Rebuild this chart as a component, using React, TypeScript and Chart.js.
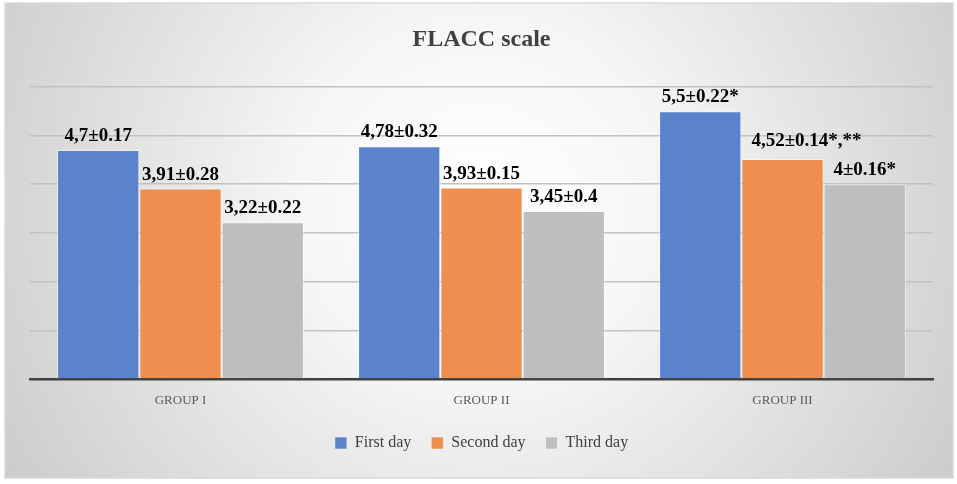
import React, { useEffect, useRef } from "react";
import { Chart, registerables } from "chart.js";

Chart.register(...registerables);

const categories = ["GROUP I", "GROUP II", "GROUP III"];
const seriesNames = ["First day", "Second day", "Third day"];
const firstDay = [4.7, 4.78, 5.5];
const secondDay = [3.91, 3.93, 4.52];
const thirdDay = [3.22, 3.45, 4.0];
const firstDayLabels = ["4,7±0.17", "4,78±0.32", "5,5±0.22*"];
const secondDayLabels = ["3,91±0.28", "3,93±0.15", "4,52±0.14*,**"];
const thirdDayLabels = ["3,22±0.22", "3,45±0.4", "4±0.16*"];
const yTicks = [0, 1, 2, 3, 4, 5, 6];

const SERIF = "'Liberation Serif', 'Times New Roman', serif";

const bgPlugin = {
  id: "bgPlugin",
  beforeDraw(chart: any) {
    const { ctx, width, height } = chart;
    ctx.save();
    ctx.fillStyle = "#ffffff";
    ctx.fillRect(0, 0, width, height);
    const x0 = 5, y0 = 3, x1 = 953, y1 = 478;
    const g = ctx.createRadialGradient(480, 200, 0, 480, 200, 600);
    g.addColorStop(0, "#ffffff");
    g.addColorStop(0.3, "#f6f6f6");
    g.addColorStop(1, "#c6c6c6");
    ctx.fillStyle = g;
    ctx.fillRect(x0, y0, x1 - x0, y1 - y0);
    ctx.strokeStyle = "#d9d9d9";
    ctx.lineWidth = 1.5;
    ctx.strokeRect(x0, y0, x1 - x0, y1 - y0);
    ctx.restore();
  },
};

const labelPlugin = {
  id: "labelPlugin",
  afterDatasetsDraw(chart: any) {
    const { ctx } = chart;
    const allLabels = [firstDayLabels, secondDayLabels, thirdDayLabels];
    ctx.save();
    ctx.font = `bold 19px ${SERIF}`;
    ctx.fillStyle = "#000000";
    ctx.textAlign = "center";
    ctx.textBaseline = "alphabetic";
    chart.data.datasets.forEach((_: any, di: number) => {
      const meta = chart.getDatasetMeta(di);
      meta.data.forEach((bar: any, i: number) => {
        const text = allLabels[di][i];
        let dx = 0;
        let dy = 9;
        if (di === 1 && i === 2) {
          dx = 24;
          dy = 13;
        }
        ctx.fillText(text, bar.x + dx, bar.y - dy);
      });
    });
    ctx.restore();
  },
};

export default function App() {
  const ref = useRef<HTMLCanvasElement>(null);
  useEffect(() => {
    if (!ref.current) return;
    const chart = new Chart(ref.current, {
      type: "bar",
      data: {
        labels: categories,
        datasets: [
          {
            label: seriesNames[0],
            data: firstDay,
            backgroundColor: "#5a83cc",
            borderColor: "rgba(255,255,255,0.5)",
            borderWidth: 1,
          },
          {
            label: seriesNames[1],
            data: secondDay,
            backgroundColor: "#ee8f4f",
            borderColor: "rgba(255,255,255,0.5)",
            borderWidth: 1,
          },
          {
            label: seriesNames[2],
            data: thirdDay,
            backgroundColor: "#bebebe",
            borderColor: "rgba(255,255,255,0.5)",
            borderWidth: 1,
          },
        ],
      },
      options: {
        responsive: false,
        animation: false,
        layout: { padding: { left: 30, right: 24, top: 0, bottom: 23 } },
        datasets: {
          bar: { categoryPercentage: 0.82, barPercentage: 1.0 },
        },
        scales: {
          x: {
            grid: { display: false },
            border: { display: true, color: "#404040", width: 2.5 },
            ticks: {
              color: "#595959",
              font: { family: SERIF, size: 13 },
              padding: 6,
              autoSkip: false,
            },
            afterFit: (scale: any) => {
              scale.height = 36;
            },
          },
          y: {
            min: 0,
            max: 6,
            afterBuildTicks: (axis: any) => {
              axis.ticks = yTicks.map((v) => ({ value: v }));
            },
            ticks: { display: false },
            grid: { color: "#c2c2c2", lineWidth: 1.5, drawTicks: false },
            border: { display: false },
          },
        },
        plugins: {
          title: {
            display: true,
            text: "FLACC scale",
            color: "#404040",
            font: { family: SERIF, size: 24, weight: "bold" },
            padding: { top: 25, bottom: 33 },
          },
          legend: {
            position: "bottom",
            labels: {
              color: "#404040",
              font: { family: SERIF, size: 16 },
              boxWidth: 12,
              boxHeight: 12,
              padding: 20,
            },
          },
          tooltip: { enabled: false },
        },
      },
      plugins: [bgPlugin, labelPlugin],
    });
    return () => chart.destroy();
  }, []);
  return (
    <div style={{ position: "absolute", left: 0, top: 0, width: 957, height: 484 }}>
      <canvas ref={ref} width={957} height={484} />
    </div>
  );
}
